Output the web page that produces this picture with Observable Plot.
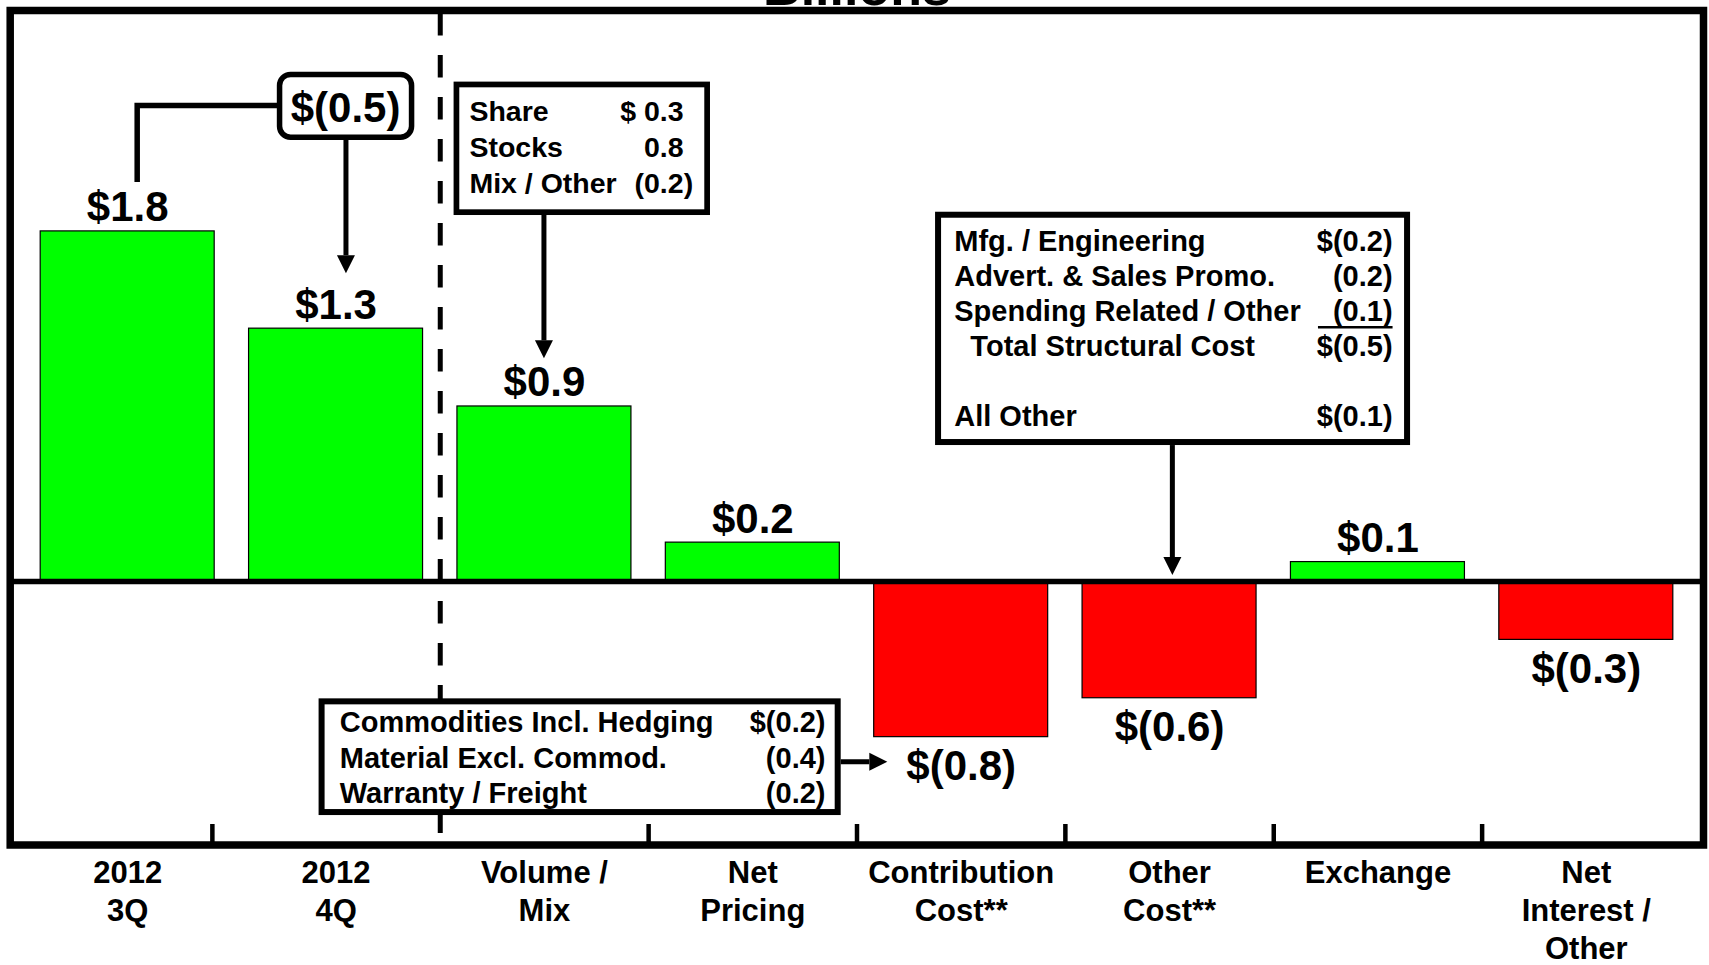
<!DOCTYPE html>
<html>
<head>
<meta charset="utf-8">
<script src="https://cdn.jsdelivr.net/npm/d3@7"></script>
<script src="https://cdn.jsdelivr.net/npm/@observablehq/plot@0.6"></script>
<style>
  html, body { margin: 0; padding: 0; background: #fff; overflow: hidden; }
  #chart svg { display: block; }
</style>
</head>
<body>
<div id="chart"></div>
<script>
// ---------- data ----------
const title = "Billions";
const categories = ["2012\n3Q", "2012\n4Q", "Volume /\nMix", "Net\nPricing", "Contribution\nCost**", "Other\nCost**", "Exchange", "Net\nInterest /\nOther"];
const values = [1.8, 1.3, 0.9, 0.2, -0.8, -0.6, 0.1, -0.3];
const valueLabels = ["$1.8", "$1.3", "$0.9", "$0.2", "$(0.8)", "$(0.6)", "$0.1", "$(0.3)"];
const quarterChange = "$(0.5)";
const volumeMixRows = [["Share", "$ 0.3"], ["Stocks", "0.8"], ["Mix / Other", "(0.2)"]];
const contributionRows = [["Commodities Incl. Hedging", "$(0.2)"], ["Material Excl. Commod.", "(0.4)"], ["Warranty / Freight", "(0.2)"]];
const otherCostRows = [["Mfg. / Engineering", "$(0.2)"], ["Advert. & Sales Promo.", "(0.2)"], ["Spending Related / Other", "(0.1)"], ["\u00a0\u00a0Total Structural Cost", "$(0.5)"], ["", ""], ["All Other", "$(0.1)"]];

const data = categories.map((c, i) => ({category: c, value: values[i], label: valueLabels[i]}));

// ---------- layout ----------
const W = 1709, H = 965;
const mL = 23, mR = 19, mT = 0, mB = 120;
const step = (W - mL - mR) / categories.length;
const FONT = '"Liberation Sans", Arial, Helvetica, sans-serif';

// ---------- callouts (drawn with Plot's scales) ----------
function callouts(index, scales) {
  const x = scales.x, y = scales.y;
  const bw = x.bandwidth();
  const cx = i => x(categories[i]) + bw / 2;
  const yv = i => y(values[i]);
  const g = d3.create("svg:g").attr("font-family", FONT).attr("font-weight", "bold")
    .attr("fill", "black").attr("text-anchor", "start");

  const box = (x0, y0, x1, y1, sw, rx = 0) =>
    g.append("rect").attr("x", x0).attr("y", y0).attr("width", x1 - x0).attr("height", y1 - y0)
      .attr("rx", rx).attr("fill", "white").attr("stroke", "black").attr("stroke-width", sw);
  const arrow = (x1, y1, x2, y2, w = 18, len = 18, sw = 5) => {
    const dx = x2 - x1, dy = y2 - y1, L = Math.hypot(dx, dy), ux = dx / L, uy = dy / L;
    const bx = x2 - ux * len, by = y2 - uy * len;
    g.append("line").attr("x1", x1).attr("y1", y1).attr("x2", bx).attr("y2", by)
      .attr("stroke", "black").attr("stroke-width", sw);
    g.append("polygon").attr("fill", "black")
      .attr("points", [[x2, y2], [bx - uy * w / 2, by + ux * w / 2], [bx + uy * w / 2, by - ux * w / 2]].map(p => p.join(",")).join(" "));
  };
  const rows = (list, left, right, base, lead, size) => {
    list.forEach(([a, b], k) => {
      const yy = base + k * lead;
      if (a) g.append("text").attr("x", left).attr("y", yy).attr("font-size", size)
        .attr("text-anchor", "start").style("white-space", "pre").text(a);
      if (b) {
        const ex = b.endsWith(")") ? right : right - 0.333 * size;
        g.append("text").attr("x", ex).attr("y", yy).attr("font-size", size).attr("text-anchor", "end").text(b);
      }
    });
  };

  // Quarter-to-quarter change callout
  {
    const c0 = cx(0), c1 = cx(1), t0 = yv(0), t1 = yv(1);
    g.append("path").attr("fill", "none").attr("stroke", "black").attr("stroke-width", 5.5)
      .attr("d", `M${c0 + 10},${t0 - 49} V${t0 - 125.4} H${c1 - 57}`);
    const bx0 = c1 - 56, bx1 = c1 + 76, by0 = t1 - 253.7, by1 = t1 - 191;
    box(bx0, by0, bx1, by1, 5.5, 11);
    g.append("text").attr("x", (bx0 + bx1) / 2).attr("y", t1 - 206.5).attr("font-size", 42)
      .attr("text-anchor", "middle").text(quarterChange);
    arrow(c1 + 10.4, by1 + 2.5, c1 + 10.4, t1 - 55);
  }

  // Volume / Mix callout
  {
    const c = cx(2), t = yv(2);
    const bx0 = c - 87.5, bx1 = c + 163.2, by0 = t - 321.5, by1 = t - 193.8;
    box(bx0, by0, bx1, by1, 5.7);
    rows(volumeMixRows, bx0 + 13, bx1 - 14, by0 + 37, 35.8, 28.5);
    arrow(c, by1 + 2.8, c, t - 47.6);
  }

  // Other cost callout
  {
    const c = cx(5), z = y(0);
    const ax = c + 3.3;
    const bx0 = c - 231, bx1 = c + 238, by0 = z - 366.3, by1 = z - 139;
    box(bx0, by0, bx1, by1, 6);
    const right = bx1 - 14.5;
    rows(otherCostRows, bx0 + 16.2, right, by0 + 36, 35, 29);
    g.append("line").attr("x1", right - 74.6).attr("x2", right)
      .attr("y1", by0 + 36 + 2 * 35 + 6.5).attr("y2", by0 + 36 + 2 * 35 + 6.5)
      .attr("stroke", "black").attr("stroke-width", 2.6);
    arrow(ax, by1 + 3, ax, z - 6);
  }

  // Contribution cost callout
  {
    const c = cx(4), b = yv(4);
    const bx0 = c - 639.1, bx1 = c - 123, by0 = b - 35.3, by1 = b + 75.4;
    box(bx0, by0, bx1, by1, 6);
    rows(contributionRows, bx0 + 18.2, bx1 - 12.2, by0 + 31, 35.3, 29);
    arrow(bx1 + 3, by0 + 60.4, c - 73.4, by0 + 60.4);
  }
  return g.node();
}

// ---------- plot ----------
const pos = data.filter(d => d.value >= 0);
const neg = data.filter(d => d.value < 0);
const boundaries = categories.slice(0, -1);

const chart = Plot.plot({
  width: W, height: H,
  marginLeft: mL, marginRight: mR, marginTop: mT, marginBottom: mB,
  x: {domain: categories, paddingInner: 0.165, paddingOuter: 0.0825, round: false, axis: null},
  y: {domain: [-1.357, 2.987], axis: null},
  style: {fontFamily: FONT, background: "white", color: "black"},
  marks: [
    // divider between the quarters and the bridge items
    Plot.ruleX([categories[1]], {dx: step / 2, insetTop: 13, insetBottom: 12, stroke: "black", strokeWidth: 5, strokeDasharray: "22.5,19.5"}),
    Plot.barY(data, {x: "category", y: "value", fill: d => d.value >= 0 ? "#00ff00" : "#ff0000", stroke: "black", strokeWidth: 1.2}),
    Plot.ruleY([0], {stroke: "black", strokeWidth: 5.5, insetLeft: -13.3, insetRight: -13}),
    // small tick marks between categories (first one sits a little left)
    Plot.ruleX([boundaries[0]], {dx: step / 2 - 19.5, insetTop: 824, stroke: "black", strokeWidth: 4.5}),
    Plot.ruleX(boundaries.filter((d, i) => i > 1), {dx: step / 2, insetTop: 824, stroke: "black", strokeWidth: 4.5}),
    Plot.frame({stroke: "black", strokeWidth: 7.5, insetLeft: -13.3, insetRight: -13, insetTop: 10, insetBottom: 0.5}),
    Plot.text(pos, {x: "category", y: "value", text: "label", lineAnchor: "bottom", dy: -10, fontSize: 42, fontWeight: "bold", fill: "black"}),
    Plot.text(neg, {x: "category", y: "value", text: "label", lineAnchor: "top", dy: 13, fontSize: 42, fontWeight: "bold", fill: "black"}),
    Plot.axisX({anchor: "bottom", tickSize: 0, tickPadding: 10, fontSize: 31, fontWeight: "bold", lineHeight: 1.235, label: null, fill: "black"}),
    Plot.text([title], {frameAnchor: "top", lineAnchor: "bottom", dy: 4, fontSize: 52, fontWeight: "bold", fill: "black"}),
    callouts
  ]
});
document.getElementById("chart").append(chart);
</script>
</body>
</html>
